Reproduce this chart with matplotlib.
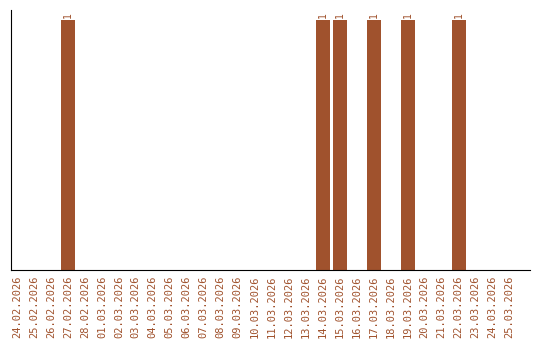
import matplotlib
matplotlib.use("Agg")
import matplotlib.pyplot as plt
import numpy as np
import datetime as dt

# Data
start = dt.date(2026, 2, 24)
dates = [(start + dt.timedelta(days=i)).strftime("%d.%m.%Y") for i in range(30)]
active_days = ["27.02.2026", "14.03.2026", "15.03.2026", "17.03.2026", "19.03.2026", "22.03.2026"]
counts = [1 if d in active_days else 0 for d in dates]

color = "#A0522D"

fig = plt.figure(figsize=(5.4, 3.4), dpi=100)
ax = fig.add_axes([11 / 540, 70 / 340, 519 / 540, 260 / 340])

x = np.arange(len(dates))
bars = ax.bar(x, counts, width=0.82, color=color)

for xi, c in zip(x, counts):
    if c > 0:
        ax.text(xi, c + 0.008, str(c), rotation=90, ha="center", va="bottom",
                color=color, fontsize=7, family="DejaVu Sans Mono")

ax.set_xlim(-0.35, 30.2)
ax.set_ylim(0, 1.04)
ax.set_xticks(x)
ax.set_xticklabels(dates, rotation=90, color=color, fontsize=7.5, family="DejaVu Sans Mono")
ax.tick_params(axis="x", length=0, pad=4)
ax.set_yticks([])
ax.spines["top"].set_visible(False)
ax.spines["right"].set_visible(False)
ax.spines["left"].set_color("black")
ax.spines["bottom"].set_color("black")

fig.savefig("out.png", dpi=100)
